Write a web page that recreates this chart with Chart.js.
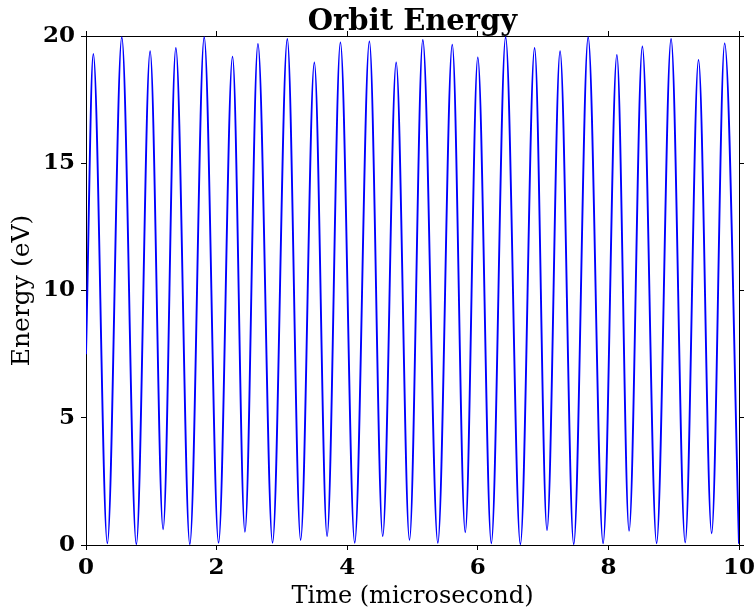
<!DOCTYPE html>
<html>
<head>
<meta charset="utf-8">
<script src="https://cdn.jsdelivr.net/npm/chart.js@4/dist/chart.umd.min.js"></script>
<style>
html,body{margin:0;padding:0;background:#fff;}
canvas{display:block;}
</style>
</head>
<body>
<canvas id="c" width="756" height="615"></canvas>
<script>
// Time (microsecond) at each turning point
const timeValues = [0, 0.112, 0.327, 0.548, 0.771, 0.982, 1.181, 1.376, 1.59, 1.81, 2.03, 2.244, 2.434, 2.633, 2.857, 3.083, 3.287, 3.497, 3.692, 3.896, 4.115, 4.34, 4.544, 4.75, 4.954, 5.158, 5.388, 5.609, 5.808, 6.0, 6.207, 6.426, 6.652, 6.87, 7.06, 7.26, 7.469, 7.69, 7.919, 8.13, 8.317, 8.52, 8.738, 8.96, 9.176, 9.38, 9.581, 9.78, 10];
// Energy (eV) at those times
const energyValues = [7.5, 19.29, 0.07, 19.95, 0.03, 19.4, 0.62, 19.53, 0.03, 19.95, 0.09, 19.19, 0.52, 19.69, 0.09, 19.88, 0.2, 18.96, 0.35, 19.75, 0.09, 19.79, 0.35, 18.96, 0.2, 19.84, 0.09, 19.66, 0.5, 19.16, 0.07, 19.95, 0.03, 19.53, 0.59, 19.4, 0.03, 19.95, 0.07, 19.26, 0.56, 19.59, 0.07, 19.88, 0.1, 19.06, 0.46, 19.71, 0.05];
const xTicks = [0, 2, 4, 6, 8, 10];
const yTicks = [0, 5, 10, 15, 20];
const chartTitle = 'Orbit Energy';
const xTitle = 'Time (microsecond)';
const yTitle = 'Energy (eV)';

const points = timeValues.map((t, i) => ({x: t, y: energyValues[i]}));

const tickFont = {family: '"DejaVu Serif"', size: 23, weight: 'bold'};
const labelFont = {family: '"DejaVu Serif"', size: 24, weight: 'normal'};

function setTicks(values) {
  return function(scale) {
    scale.ticks = values.map(v => ({value: v}));
  };
}

const titlePlugin = {
  id: 'topTitle',
  afterDraw(chart) {
    const ctx = chart.ctx;
    const a = chart.chartArea;
    ctx.save();
    ctx.font = 'bold 29px "DejaVu Serif"';
    ctx.fillStyle = '#000';
    ctx.textAlign = 'center';
    ctx.textBaseline = 'alphabetic';
    ctx.fillText(chartTitle, (a.left + a.right) / 2, 30);
    ctx.restore();
  }
};

const gridOpts = {drawOnChartArea: false, drawTicks: true, tickLength: 5, color: '#000', lineWidth: 1};
const borderOpts = {display: true, color: '#000', width: 1};

function noPad(s) { s.paddingLeft = 0; s.paddingRight = 0; s.paddingTop = 0; s.paddingBottom = 0; }

new Chart(document.getElementById('c'), {
  type: 'line',
  data: {
    datasets: [{
      data: points,
      borderColor: '#0000ff',
      borderWidth: 1.9,
      pointRadius: 0,
      fill: false,
      cubicInterpolationMode: 'monotone'
    }]
  },
  options: {
    responsive: false,
    devicePixelRatio: 1,
    animation: false,
    layout: {padding: 0},
    plugins: {legend: {display: false}, tooltip: {enabled: false}, title: {display: false}},
    scales: {
      x: {
        type: 'linear', position: 'bottom', min: 0, max: 10,
        afterBuildTicks: setTicks(xTicks),
        ticks: {font: tickFont, color: '#000', padding: 4, maxRotation: 0},
        grid: gridOpts, border: borderOpts,
        title: {display: true, text: xTitle, font: labelFont, color: '#000', padding: {top: 0, bottom: 4}},
        afterFit(s) { s.height = 70; noPad(s); }
      },
      x2: {
        type: 'linear', position: 'top', min: 0, max: 10,
        afterBuildTicks: setTicks(xTicks),
        ticks: {display: false},
        grid: gridOpts, border: borderOpts,
        afterFit(s) { s.height = 36; noPad(s); }
      },
      y: {
        type: 'linear', position: 'left', min: 0, max: 20,
        afterBuildTicks: setTicks(yTicks),
        ticks: {font: tickFont, color: '#000', padding: 6},
        grid: gridOpts, border: borderOpts,
        title: {display: true, text: yTitle, font: {family: '"DejaVu Serif"', size: 25, weight: 'normal'}, color: '#000', padding: {top: 7, bottom: 0}},
        afterFit(s) { s.width = 86; noPad(s); }
      },
      y2: {
        type: 'linear', position: 'right', min: 0, max: 20,
        afterBuildTicks: setTicks(yTicks),
        ticks: {display: false},
        grid: gridOpts, border: borderOpts,
        afterFit(s) { s.width = 17; noPad(s); }
      }
    }
  },
  plugins: [titlePlugin]
});
</script>
</body>
</html>
